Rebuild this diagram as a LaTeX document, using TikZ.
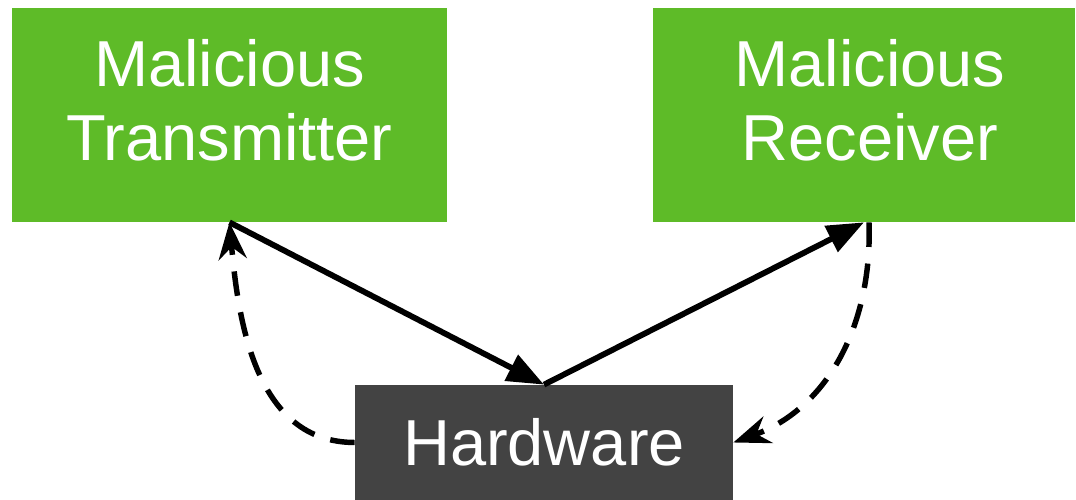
\documentclass[tikz,border=0pt]{standalone}
\usepackage{fontspec}
\setmainfont{Liberation Sans}
\usepackage{xcolor}
\usetikzlibrary{math,arrows.meta}

\definecolor{boxgreen}{HTML}{5EBB28}
\definecolor{boxgrey}{HTML}{434343}

\begin{document}
\begin{tikzpicture}

\tikzmath{
\scale = 0.02;
}

\tikzset{
greenbox/.style={fill=boxgreen,inner sep=0pt,minimum height=214*\scale cm},
greybox/.style={fill=boxgrey,inner sep=0pt,minimum width=378*\scale cm,minimum height=115*\scale cm},
boxtext/.style={text=white,align=center,inner sep=0pt,font=\fontsize{37}{42}\selectfont},
solidarrow/.style={line width=3.3pt,-{Triangle[length=21pt,width=16pt]}},
dasharrow/.style={line width=3.1pt,dash pattern=on 14pt off 9.5pt,-{Stealth[length=21pt,width=16pt,inset=7pt]}}
}

\useasboundingbox (0,0) rectangle (1076*\scale,500*\scale);

\node[greenbox,minimum width=435*\scale cm] (tx) at (229.5*\scale,385*\scale) {};
\node[boxtext] (txtext) at (229.5*\scale,400*\scale) {Malicious\\Transmitter};

\node[greenbox,minimum width=422*\scale cm] (rx) at (864*\scale,385*\scale) {};
\node[boxtext] (rxtext) at (870*\scale,400*\scale) {Malicious\\Receiver};

\node[greybox] (hw) at (544*\scale,57.5*\scale) {};
\node[boxtext] (hwtext) at (544*\scale,57.5*\scale) {Hardware};


\draw[solidarrow] (tx.south) -- (hw.north);
\draw[solidarrow] (hw.north) -- (rx.south);

\draw[dasharrow] (hw.west) to[out=180,in=-85] (tx.south);
\draw[dasharrow] ([xshift=5*\scale cm]rx.south) to[out=-88,in=20] (hw.east);

\end{tikzpicture}
\end{document}
